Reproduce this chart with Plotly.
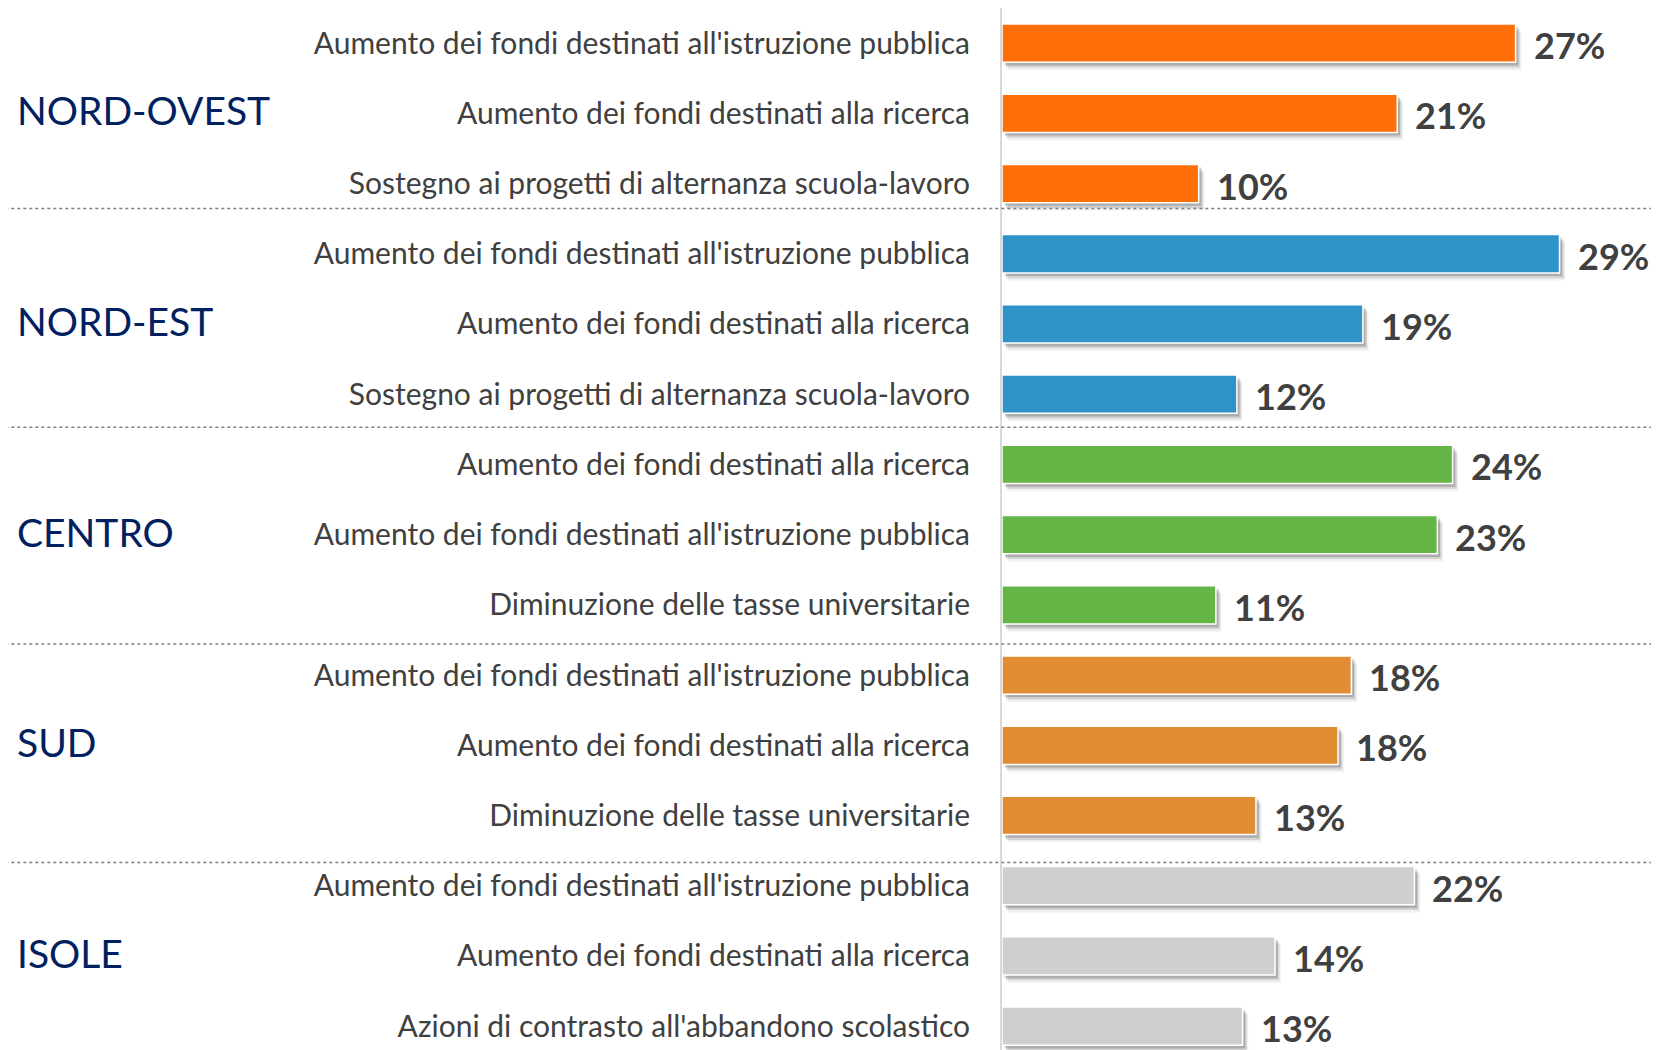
import plotly.graph_objects as go

# ---------------------------------------------------------------------------
# Data
# ---------------------------------------------------------------------------

regions = ["NORD-OVEST", "NORD-EST", "CENTRO", "SUD", "ISOLE"]

region_items = [
    ["Aumento dei fondi destinati all'istruzione pubblica",
     "Aumento dei fondi destinati alla ricerca",
     "Sostegno ai progetti di alternanza scuola-lavoro"],
    ["Aumento dei fondi destinati all'istruzione pubblica",
     "Aumento dei fondi destinati alla ricerca",
     "Sostegno ai progetti di alternanza scuola-lavoro"],
    ["Aumento dei fondi destinati alla ricerca",
     "Aumento dei fondi destinati all'istruzione pubblica",
     "Diminuzione delle tasse universitarie"],
    ["Aumento dei fondi destinati all'istruzione pubblica",
     "Aumento dei fondi destinati alla ricerca",
     "Diminuzione delle tasse universitarie"],
    ["Aumento dei fondi destinati all'istruzione pubblica",
     "Aumento dei fondi destinati alla ricerca",
     "Azioni di contrasto all'abbandono scolastico"],
]

# percentages (labels are rounded)
region_values = [
    [26.9, 20.7, 10.3],
    [29.2, 18.9, 12.3],
    [23.6, 22.8, 11.2],
    [18.3, 17.6, 13.3],
    [21.6, 14.3, 12.6],
]

region_colors = ["#FF6F07", "#3093C7", "#64B446", "#E08D33", "#D0CECE"]

# ---------------------------------------------------------------------------
# Flatten into rows
# ---------------------------------------------------------------------------

labels, values, colors, rows = [], [], [], []
for g, items in enumerate(region_items):
    for item, val in zip(items, region_values[g]):
        rows.append(len(rows))
        labels.append(item)
        values.append(val)
        colors.append(region_colors[g])

BAR_W = 0.545
TEXT_COLOR = "#404040"
FONT = "Lato"

fig = go.Figure()

# soft drop shadow (layers)
for dy, dx, alpha in [(0.11, 0.3, 0.06), (0.075, 0.22, 0.12), (0.045, 0.14, 0.18)]:
    fig.add_trace(go.Bar(
        x=values, y=rows, base=dx, orientation="h", width=BAR_W,
        offset=-BAR_W / 2 + dy,
        marker=dict(color=f"rgba(0,0,0,{alpha})", line=dict(width=0)),
        hoverinfo="skip", showlegend=False,
    ))

fig.add_trace(go.Bar(
    x=values, y=rows, orientation="h", width=BAR_W,
    marker=dict(color=colors, line=dict(color="white", width=1.5)),
    showlegend=False,
))

# value labels
for r, v in zip(rows, values):
    fig.add_annotation(
        x=v, y=r, text=f"{v:.0f}%", showarrow=False,
        xanchor="left", yanchor="middle", xshift=16, yshift=-2,
        font=dict(family=FONT, size=36, color=TEXT_COLOR, weight="bold"),
    )

# region names (middle row of each group)
for g, name in enumerate(regions):
    fig.add_annotation(
        x=0, xref="paper", y=g * 3 + 1, text=name, showarrow=False,
        xanchor="left", yanchor="middle", xshift=-987, yshift=3,
        font=dict(family=FONT, size=39, color="#002060"),
    )

# dotted separators between groups
for ysep in [2.357, 5.47, 8.557, 11.67]:
    fig.add_shape(
        type="line", xref="paper", x0=-1.517, x1=1.02, y0=ysep, y1=ysep,
        line=dict(color="#7F7F7F", width=1.5, dash="dot"),
    )

fig.update_layout(
    width=1651, height=1042,
    margin=dict(l=994, r=0, t=0, b=0),
    paper_bgcolor="white", plot_bgcolor="white",
    barmode="overlay",
    xaxis=dict(range=[0, 34.41], visible=False, fixedrange=True),
    yaxis=dict(
        range=[14.34, -0.5], tickvals=rows, ticktext=labels,
        showgrid=False, zeroline=False, ticks="",
        showline=True, linecolor="#D9D9D9", linewidth=2,
        ticklabelstandoff=24,
        tickfont=dict(family=FONT, size=30, color=TEXT_COLOR),
    ),
)

fig.write_html("out.html")
